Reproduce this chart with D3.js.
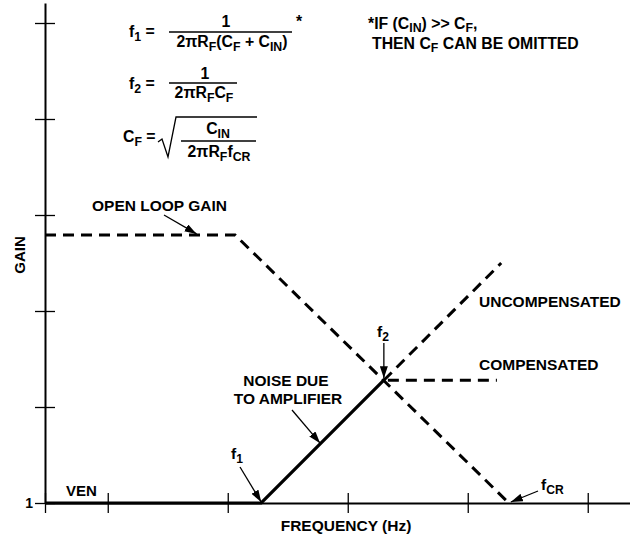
<!DOCTYPE html>
<html>
<head>
<meta charset="utf-8">
<script src="https://cdn.jsdelivr.net/npm/d3@7"></script>
<style>
  html, body { margin: 0; padding: 0; background: #fff; }
  svg { display: block; font-family: "Liberation Sans", Arial, sans-serif; font-weight: bold; }
</style>
</head>
<body>
<script>
// frequency decades (Hz) and gain decades used for tick marks
const xTicks = [3, 10, 100, 1000, 10000, 100000];
const yTicks = [1, 10, 100, 1000, 10000, 100000];

// open loop gain (dashed)
const openLoopF = [3, 115, 22000];
const openLoopG = [620, 620, 1];

// noise due to amplifier (solid)
const noiseF = [3, 190, 2000];
const noiseG = [1, 1, 19];

// compensated / uncompensated (dashed)
const compF = [2000, 17500];
const compG = [19, 19];
const uncompF = [2000, 19000];
const uncompG = [19, 316];

const width = 630, height = 539;

const svg = d3.select("body").append("svg")
    .attr("width", width)
    .attr("height", height);

const defs = svg.append("defs");
defs.append("marker")
    .attr("id", "head")
    .attr("viewBox", "0 0 12 8")
    .attr("refX", 12).attr("refY", 4)
    .attr("markerWidth", 12).attr("markerHeight", 8)
    .attr("markerUnits", "userSpaceOnUse")
    .attr("orient", "auto")
    .append("path").attr("d", "M0,0L12,4L0,8Z").attr("fill", "#000");

const x = d3.scaleLog().domain([3, 2.25e5]).range([45, 630]);
const y = d3.scaleLog().domain([1, Math.pow(10, 500 / 96)]).range([503, 3]);

// axes
const xAxis = svg.append("g")
    .attr("transform", `translate(0,${y(1)})`)
    .call(d3.axisBottom(x).tickValues(xTicks).tickSizeOuter(0).tickFormat(""));
xAxis.selectAll(".tick line").attr("y1", -10).attr("y2", 10).attr("stroke-width", 1.3);
xAxis.select(".domain").attr("stroke-width", 2);

const yAxis = svg.append("g")
    .attr("transform", `translate(${x(3)},0)`)
    .call(d3.axisLeft(y).tickValues(yTicks).tickSizeOuter(0).tickFormat(d => d === 1 ? "1" : ""));
yAxis.selectAll(".tick line").attr("x1", -10).attr("x2", 10).attr("stroke-width", 1.3);
yAxis.select(".domain").attr("stroke-width", 2);
yAxis.selectAll(".tick text")
    .attr("x", -12).attr("dy", "0.35em")
    .attr("font-size", 14).attr("font-family", null).attr("font-weight", "bold");

svg.append("text")
    .attr("transform", `translate(25,255) rotate(-90)`)
    .attr("text-anchor", "middle")
    .attr("font-size", 15)
    .text("GAIN");

svg.append("text")
    .attr("x", 346).attr("y", 531)
    .attr("text-anchor", "middle")
    .attr("font-size", 15.5)
    .text("FREQUENCY (Hz)");

// curves
const line = d3.line().x(d => x(d[0])).y(d => y(d[1]));
const pairs = (fs, gs) => fs.map((f, i) => [f, gs[i]]);

const dashed = "11,7";
svg.append("path").attr("d", line(pairs(openLoopF, openLoopG)))
    .attr("fill", "none").attr("stroke", "#000").attr("stroke-width", 3).attr("stroke-dasharray", dashed);
svg.append("path").attr("d", line(pairs(uncompF, uncompG)))
    .attr("fill", "none").attr("stroke", "#000").attr("stroke-width", 3).attr("stroke-dasharray", dashed);
svg.append("path").attr("d", line(pairs(compF, compG)))
    .attr("fill", "none").attr("stroke", "#000").attr("stroke-width", 3).attr("stroke-dasharray", dashed)
    .attr("stroke-dashoffset", -4);
svg.append("path").attr("d", line(pairs(noiseF, noiseG)))
    .attr("fill", "none").attr("stroke", "#000").attr("stroke-width", 3.2);

// annotation arrows
function arrow(x1, y1, x2, y2) {
  svg.append("line")
      .attr("x1", x1).attr("y1", y1).attr("x2", x2).attr("y2", y2)
      .attr("stroke", "#000").attr("stroke-width", 1.3)
      .attr("marker-end", "url(#head)");
}

function label(px, py, parts, size, anchor, shift) {
  const t = svg.append("text").attr("x", px).attr("y", py)
      .attr("font-size", size).attr("text-anchor", anchor || "start");
  let shifted = 0;
  parts.forEach(p => {
    const sub = Array.isArray(p);
    const s = t.append("tspan").text(sub ? p[0] : p);
    const want = sub ? size * (shift || 0.28) : 0;
    if (want !== shifted) s.attr("dy", want - shifted);
    if (sub) s.attr("font-size", size * 0.78);
    shifted = want;
  });
  return t;
}

const f2x = x(compF[0]), f2y = y(compG[0]);
const ls = 15.5;

label(92, 211, ["OPEN LOOP GAIN"], ls);
arrow(164, 215, x(55), y(openLoopG[0]) - 1);

label(286, 386, ["NOISE DUE"], ls, "middle");
label(288, 404, ["TO AMPLIFIER"], ls, "middle");
arrow(292, 410, x(600) - 1, y(4.2));

label(231, 459, ["f", ["1"]], ls);
arrow(240, 467, x(noiseF[1]), y(1) - 1);

label(377, 337, ["f", ["2"]], ls);
arrow(f2x, 343, f2x, f2y - 2);

label(541, 490, ["f", ["CR"]], ls);
arrow(538, 491, x(openLoopF[2]) + 2, y(1) - 1);

label(66, 496, ["VEN"], 15);

label(479, 307, ["UNCOMPENSATED"], ls);
label(479, 370, ["COMPENSATED"], ls);

// formulas
const fs = 15.8;
label(129, 37, ["f", ["1"], " ="], fs);
svg.append("line").attr("x1", 169).attr("x2", 292).attr("y1", 32).attr("y2", 32).attr("stroke", "#000").attr("stroke-width", 1.3);
label(226, 27, ["1"], fs, "middle");
label(232, 47, ["2\u03c0R", ["F"], "(C", ["F"], " + C", ["IN"], ")"], fs, "middle");
label(296, 27, ["*"], fs);

label(129, 89, ["f", ["2"], " ="], fs);
svg.append("line").attr("x1", 169).attr("x2", 237).attr("y1", 83).attr("y2", 83).attr("stroke", "#000").attr("stroke-width", 1.3);
label(205, 79, ["1"], fs, "middle");
label(204, 98, ["2\u03c0R", ["F"], "C", ["F"]], fs, "middle");

label(123, 142, ["C", ["F"], " ="], fs);
svg.append("path").attr("d", "M158,142L162,139L168,157L176,117L257,117")
    .attr("fill", "none").attr("stroke", "#000").attr("stroke-width", 1.3);
svg.append("line").attr("x1", 181).attr("x2", 256).attr("y1", 141).attr("y2", 141).attr("stroke", "#000").attr("stroke-width", 1.3);
label(218, 134, ["C", ["IN"]], fs, "middle");
label(219, 157, ["2\u03c0R", ["F"], "f", ["CR"]], fs, "middle");

label(368, 29, ["*IF (C", ["IN"], ") >> C", ["F"], ","], fs, "start", 0.2);
label(372, 49, ["THEN C", ["F"], " CAN BE OMITTED"], fs, "start", 0.2);
</script>
</body>
</html>
